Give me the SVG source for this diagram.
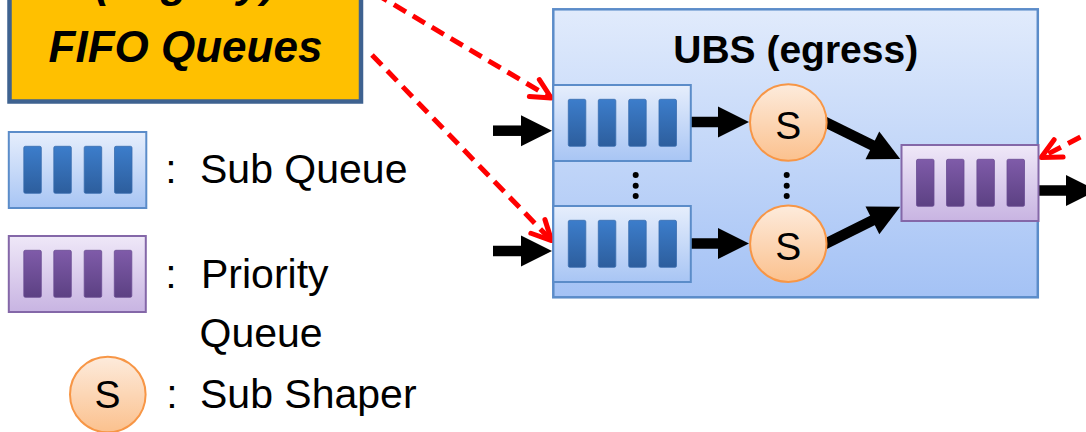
<svg xmlns="http://www.w3.org/2000/svg" xmlns:xlink="http://www.w3.org/1999/xlink" width="1086" height="432" viewBox="0 0 1086 432">
<style>
  text { font-family: "Liberation Sans", Arial, sans-serif; fill: #000; }
  .legend { font-size: 41px; }
  .colon { font-size: 41px; text-anchor: middle; }
  .title { font-size: 39px; font-weight: bold; text-anchor: middle; }
  .fifo { font-size: 44px; font-weight: bold; font-style: italic; text-anchor: middle; }
  .s { font-size: 39px; text-anchor: middle; }
  .qb { fill: url(#gBlueBox); stroke: #5B8CC9; stroke-width: 2; }
  .qp { fill: url(#gPurpleBox); stroke: #8467A8; stroke-width: 2; }
  .barb { fill: url(#gBlueBar); stroke: #3A6DAE; stroke-width: 0.8; }
  .barp { fill: url(#gPurpleBar); stroke: #6A4C93; stroke-width: 0.8; }
  .shaper { fill: url(#gOrange); stroke: #F79646; stroke-width: 2; }
  .blk { stroke: #000; stroke-width: 10.5; fill: none; marker-end: url(#ah); }
  .red { stroke: #FF0000; stroke-width: 5; fill: none; stroke-dasharray: 14 8; marker-end: url(#oh); }
  .dot { fill: #000; }
</style>
<defs>
  <linearGradient id="gBlueBox" x1="0" y1="0" x2="0" y2="1">
    <stop offset="0" stop-color="#E6EEFC"/>
    <stop offset="1" stop-color="#A8C5F4"/>
  </linearGradient>
  <linearGradient id="gUBS" x1="0" y1="0" x2="0" y2="1">
    <stop offset="0" stop-color="#E1EBFC"/>
    <stop offset="1" stop-color="#A4C2F5"/>
  </linearGradient>
  <linearGradient id="gPurpleBox" x1="0" y1="0" x2="0" y2="1">
    <stop offset="0" stop-color="#EFE8F8"/>
    <stop offset="1" stop-color="#C8B4E2"/>
  </linearGradient>
  <linearGradient id="gBlueBar" x1="0" y1="0" x2="0" y2="1">
    <stop offset="0" stop-color="#3C7DCB"/>
    <stop offset="1" stop-color="#2D5E9D"/>
  </linearGradient>
  <linearGradient id="gPurpleBar" x1="0" y1="0" x2="0" y2="1">
    <stop offset="0" stop-color="#7F5BA9"/>
    <stop offset="1" stop-color="#5C4183"/>
  </linearGradient>
  <linearGradient id="gOrange" x1="0" y1="0" x2="0" y2="1">
    <stop offset="0" stop-color="#FDEBDC"/>
    <stop offset="1" stop-color="#FBC18E"/>
  </linearGradient>
  <marker id="ah" markerUnits="userSpaceOnUse" markerWidth="32" markerHeight="32" viewBox="0 0 32 32" refX="1" refY="15.5" orient="auto" overflow="visible">
    <path d="M0,0 L31,15.5 L0,31 z" fill="#000"/>
  </marker>
  <marker id="oh" markerUnits="userSpaceOnUse" markerWidth="30" markerHeight="30" viewBox="-25 -15 30 30" refX="0" refY="0" orient="auto" overflow="visible">
    <path d="M-19.7,-9.8 L0,0 L-19.7,9.8" fill="none" stroke="#FF0000" stroke-width="5" stroke-linecap="round" stroke-linejoin="round" stroke-dasharray="none"/>
  </marker>
  <g id="subq">
    <rect class="qb" x="0" y="0" width="137.5" height="76"/>
    <rect class="barb" x="15" y="14.3" width="17.5" height="47" rx="1.5"/>
    <rect class="barb" x="45" y="14.3" width="17.5" height="47" rx="1.5"/>
    <rect class="barb" x="75.4" y="14.3" width="17.5" height="47" rx="1.5"/>
    <rect class="barb" x="105.7" y="14.3" width="17.5" height="47" rx="1.5"/>
  </g>
  <g id="prioq">
    <rect class="qp" x="0" y="0" width="137" height="76"/>
    <rect class="barp" x="15" y="14.3" width="17.5" height="47" rx="1.5"/>
    <rect class="barp" x="45" y="14.3" width="17.5" height="47" rx="1.5"/>
    <rect class="barp" x="75.4" y="14.3" width="17.5" height="47" rx="1.5"/>
    <rect class="barp" x="105.5" y="14.3" width="17.5" height="47" rx="1.5"/>
  </g>
</defs>

<g id="fifo-box">
  <rect x="9.5" y="-30" width="351.5" height="131.5" fill="#FFC000" stroke="#3E6290" stroke-width="4.5"/>
  <text class="fifo" x="185.5" y="-3">(Legacy)</text>
  <text class="fifo" x="185.5" y="62">FIFO Queues</text>
</g>

<g id="ubs">
  <rect x="553.3" y="9.3" width="484.5" height="288" fill="url(#gUBS)" stroke="#5B8CC9" stroke-width="2.5"/>
  <text class="title" x="795.7" y="63">UBS (egress)</text>
</g>

<g id="connectors">
  <line class="red" x1="375" y1="-6.5" x2="551.3" y2="98"/>
  <line class="red" x1="372" y1="55" x2="551.6" y2="240.6"/>
  <line class="red" x1="1100" y1="127" x2="1041.1" y2="157.4"/>
  <line class="blk" x1="493" y1="130.7" x2="522" y2="130.7"/>
  <line class="blk" x1="493" y1="251" x2="522" y2="251"/>
  <line class="blk" x1="690" y1="122" x2="719" y2="122"/>
  <line class="blk" x1="690" y1="243.5" x2="719" y2="243.5"/>
  <line class="blk" x1="818" y1="118.5" x2="873.3" y2="145.8"/>
  <line class="blk" x1="818" y1="247.5" x2="873.3" y2="220"/>
  <line class="blk" x1="1038" y1="190.5" x2="1067" y2="190.5"/>
</g>

<g id="subqueue-1"><use xlink:href="#subq" href="#subq" x="553.3" y="85"/></g>
<g id="subqueue-2"><use xlink:href="#subq" href="#subq" x="553.3" y="206"/></g>
<g id="queue-dots">
  <circle class="dot" cx="635.7" cy="175" r="3"/>
  <circle class="dot" cx="635.7" cy="185.7" r="3"/>
  <circle class="dot" cx="635.7" cy="196" r="3"/>
</g>
<g id="shaper-1">
  <circle class="shaper" cx="788.3" cy="122.5" r="38.3"/>
  <text class="s" x="788.3" y="138.5">S</text>
</g>
<g id="shaper-2">
  <circle class="shaper" cx="788.3" cy="243.8" r="38.2"/>
  <text class="s" x="788.3" y="260">S</text>
</g>
<g id="shaper-dots">
  <circle class="dot" cx="786.7" cy="175" r="3"/>
  <circle class="dot" cx="786.7" cy="185.7" r="3"/>
  <circle class="dot" cx="786.7" cy="196" r="3"/>
</g>
<g id="priority-queue"><use xlink:href="#prioq" href="#prioq" x="901.5" y="145"/></g>

<g id="legend-subqueue">
  <use xlink:href="#subq" href="#subq" x="8.8" y="132"/>
  <text class="colon" x="171" y="183.3">:</text>
  <text class="legend" x="200" y="183.3">Sub Queue</text>
</g>
<g id="legend-priority">
  <use xlink:href="#prioq" href="#prioq" x="8.8" y="236"/>
  <text class="colon" x="171" y="288.3">:</text>
  <text class="legend" x="201"><tspan x="201" y="288.3">Priority</tspan><tspan x="199.5" y="346.7">Queue</tspan></text>
</g>
<g id="legend-shaper">
  <circle class="shaper" cx="107.8" cy="394.5" r="37.8"/>
  <text class="s" x="107.5" y="408.3">S</text>
  <text class="colon" x="172" y="408.3">:</text>
  <text class="legend" x="200" y="408.3">Sub Shaper</text>
</g>
</svg>
